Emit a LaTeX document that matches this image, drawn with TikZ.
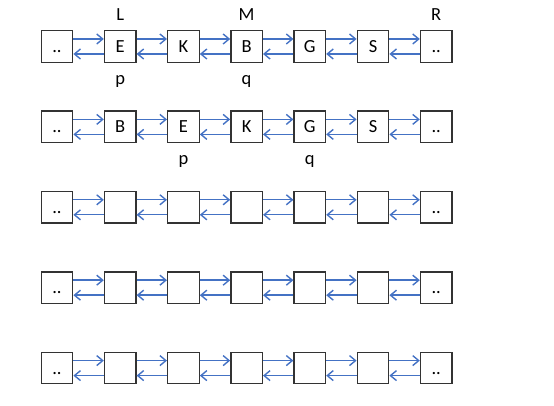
\documentclass[tikz,border=0pt]{standalone}
\usepackage{fontspec}
\setmainfont{Carlito}
\usepackage{xcolor}
\usepackage{tikz}
\usetikzlibrary{arrows.meta, positioning}
\definecolor{linkblue}{RGB}{68,114,196}
\tikzset{
  cell/.style={draw=black!80, line width=1.3pt, minimum size=31.5pt, inner sep=0pt,
    text height=12pt, text depth=0pt, font=\fontsize{18.5}{22}\selectfont},
  tag/.style={inner sep=0pt, font=\fontsize{18.5}{22}\selectfont},
  link/.style={-{Straight Barb[length=6pt, width=10pt]}, linkblue, line width=1.4pt},
}

\begin{document}
\begin{tikzpicture}[x=1pt, y=1pt]
  \useasboundingbox (0,0) rectangle (554,406);
  % five lists, seven cells each
  \foreach [count=\r] \row in {{..,E,K,B,G,S,..},{..,B,E,K,G,S,..},{..,{},{},{},{},{},..},{..,{},{},{},{},{},..},{..,{},{},{},{},{},..}} {
    \foreach [count=\c] \txt in \row {
      \node[cell] (b-\r-\c) at ({57+63.2*(\c-1)}, {359.5-80.4*(\r-1)}) {\txt};
    }
  }
  % next / prev links
  \foreach \r in {1,...,5} {
    \foreach \c [remember=\c as \p (initially 1)] in {2,...,7} {
      \draw[link] ([yshift=7.5pt]b-\r-\p.east) -- ([yshift=7.5pt]b-\r-\c.west);
      \draw[link] ([yshift=-7.5pt]b-\r-\c.west) -- ([yshift=-7.5pt]b-\r-\p.east);
    }
  }
  \node[tag, above=9pt of b-1-2] (L) {L};
  \node[tag, above=9pt of b-1-4] (M) {M};
  \node[tag, above=9pt of b-1-7] (R) {R};
  \node[tag, below=12.5pt of b-1-2] (p1) {p};
  \node[tag, below=12.5pt of b-1-4] (q1) {q};
  \node[tag, below=12.5pt of b-2-3] (p2) {p};
  \node[tag, below=12.5pt of b-2-5] (q2) {q};
\end{tikzpicture}
\end{document}
